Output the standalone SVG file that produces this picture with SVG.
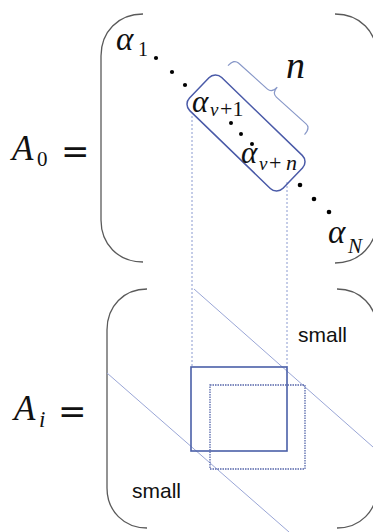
<svg xmlns="http://www.w3.org/2000/svg" width="373" height="532" viewBox="0 0 373 532">
<style>
.paren{fill:none;stroke:#5a5a5a;stroke-width:1.3}
.m{font-family:"Liberation Serif","DejaVu Serif",serif;font-style:italic;fill:#111}
.r{font-family:"Liberation Serif","DejaVu Serif",serif;fill:#111}
.eq{font-family:"DejaVu Serif",serif;fill:#111}
.dot{fill:#000}
.vdot{fill:none;stroke:#8a9ad0;stroke-width:1;stroke-dasharray:2 2}
.diag{fill:none;stroke:#9aa6d6;stroke-width:1}
.sans{font-family:"Liberation Sans",Arial,sans-serif;font-size:21px;fill:#111}
</style>
<rect width="373" height="532" fill="#fff"/>

<g id="matrixA0">
  <path class="paren" d="M143,14 C118,14 101,32 101,56 L101,220 C101,244 118,262 143,262"/>
  <path class="paren" d="M335,14 C360,14 377,32 377,56 L377,220 C377,244 360,263 335,263"/>
  <text class="m" x="12" y="160" font-size="35">A</text>
  <text class="r" x="37" y="166" font-size="21">0</text>
  <text class="eq" x="61" y="163" font-size="34">=</text>
</g>

<g id="connectors">
  <line class="vdot" x1="192" y1="116" x2="192" y2="367"/>
  <line class="vdot" x1="287" y1="182" x2="287" y2="367"/>
</g>

<g id="diagonal">
  <text class="m" x="116" y="50" font-size="33">α</text>
  <text class="r" x="138" y="56" font-size="20">1</text>
  <circle class="dot" cx="156" cy="58" r="2.1"/>
  <circle class="dot" cx="172" cy="72" r="2.1"/>
  <circle class="dot" cx="185" cy="85" r="2.1"/>
  <circle class="dot" cx="231" cy="123" r="2"/>
  <circle class="dot" cx="241" cy="134" r="2"/>
  <circle class="dot" cx="252" cy="144" r="2"/>
  <circle class="dot" cx="300" cy="185" r="2.3"/>
  <circle class="dot" cx="314" cy="199" r="2.3"/>
  <circle class="dot" cx="329" cy="212" r="2.3"/>
  <text class="m" x="328" y="243" font-size="33">α</text>
  <text class="m" x="348" y="253" font-size="21">N</text>
</g>

<g id="block">
  <rect x="181" y="110" width="130" height="46" rx="9" fill="none" stroke="#4a5aa8" stroke-width="1.5" transform="rotate(44 246 133)"/>
  <text class="m" x="192" y="112" font-size="31">α</text>
  <text class="m" x="210" y="116" font-size="19">ν</text>
  <text class="r" x="220" y="116" font-size="22">+1</text>
  <text class="m" x="241" y="163" font-size="31">α</text>
  <text class="m" x="259" y="170" font-size="19">ν</text>
  <text class="r" x="269" y="170" font-size="22">+</text>
  <text class="m" x="286" y="170" font-size="22">n</text>
</g>

<g id="brace">
  <path d="M0,9 Q0,0 6,0 L45,0 Q51,0 51,-8 Q51,0 57,0 L97,0 Q103,0 103,9" fill="none" stroke="#8898c8" stroke-width="1.2" transform="translate(234 59) rotate(42)"/>
  <text class="m" x="286" y="78" font-size="38">n</text>
</g>

<g id="matrixAi">
  <path class="paren" d="M147,289 C124,289 107,306 107,330 L107,488 C107,511 124,528 147,528"/>
  <path class="paren" d="M337,289 C360,289 377,306 377,330 L377,488 C377,511 360,528 337,528"/>
  <text class="m" x="14" y="420" font-size="35">A</text>
  <text class="m" x="39" y="427" font-size="23">i</text>
  <text class="eq" x="58" y="423" font-size="34">=</text>
  <line class="diag" x1="107" y1="373" x2="289" y2="532"/>
  <line class="diag" x1="194" y1="289" x2="373" y2="447"/>
  <rect x="191" y="367" width="96" height="84" fill="none" stroke="#4a5fa8" stroke-width="1.6"/>
  <rect x="210" y="385" width="95" height="84" fill="none" stroke="#5566aa" stroke-width="1.3" stroke-dasharray="1.5 1"/>
  <text class="sans" x="298" y="342">small</text>
  <text class="sans" x="132" y="498">small</text>
</g>
</svg>
